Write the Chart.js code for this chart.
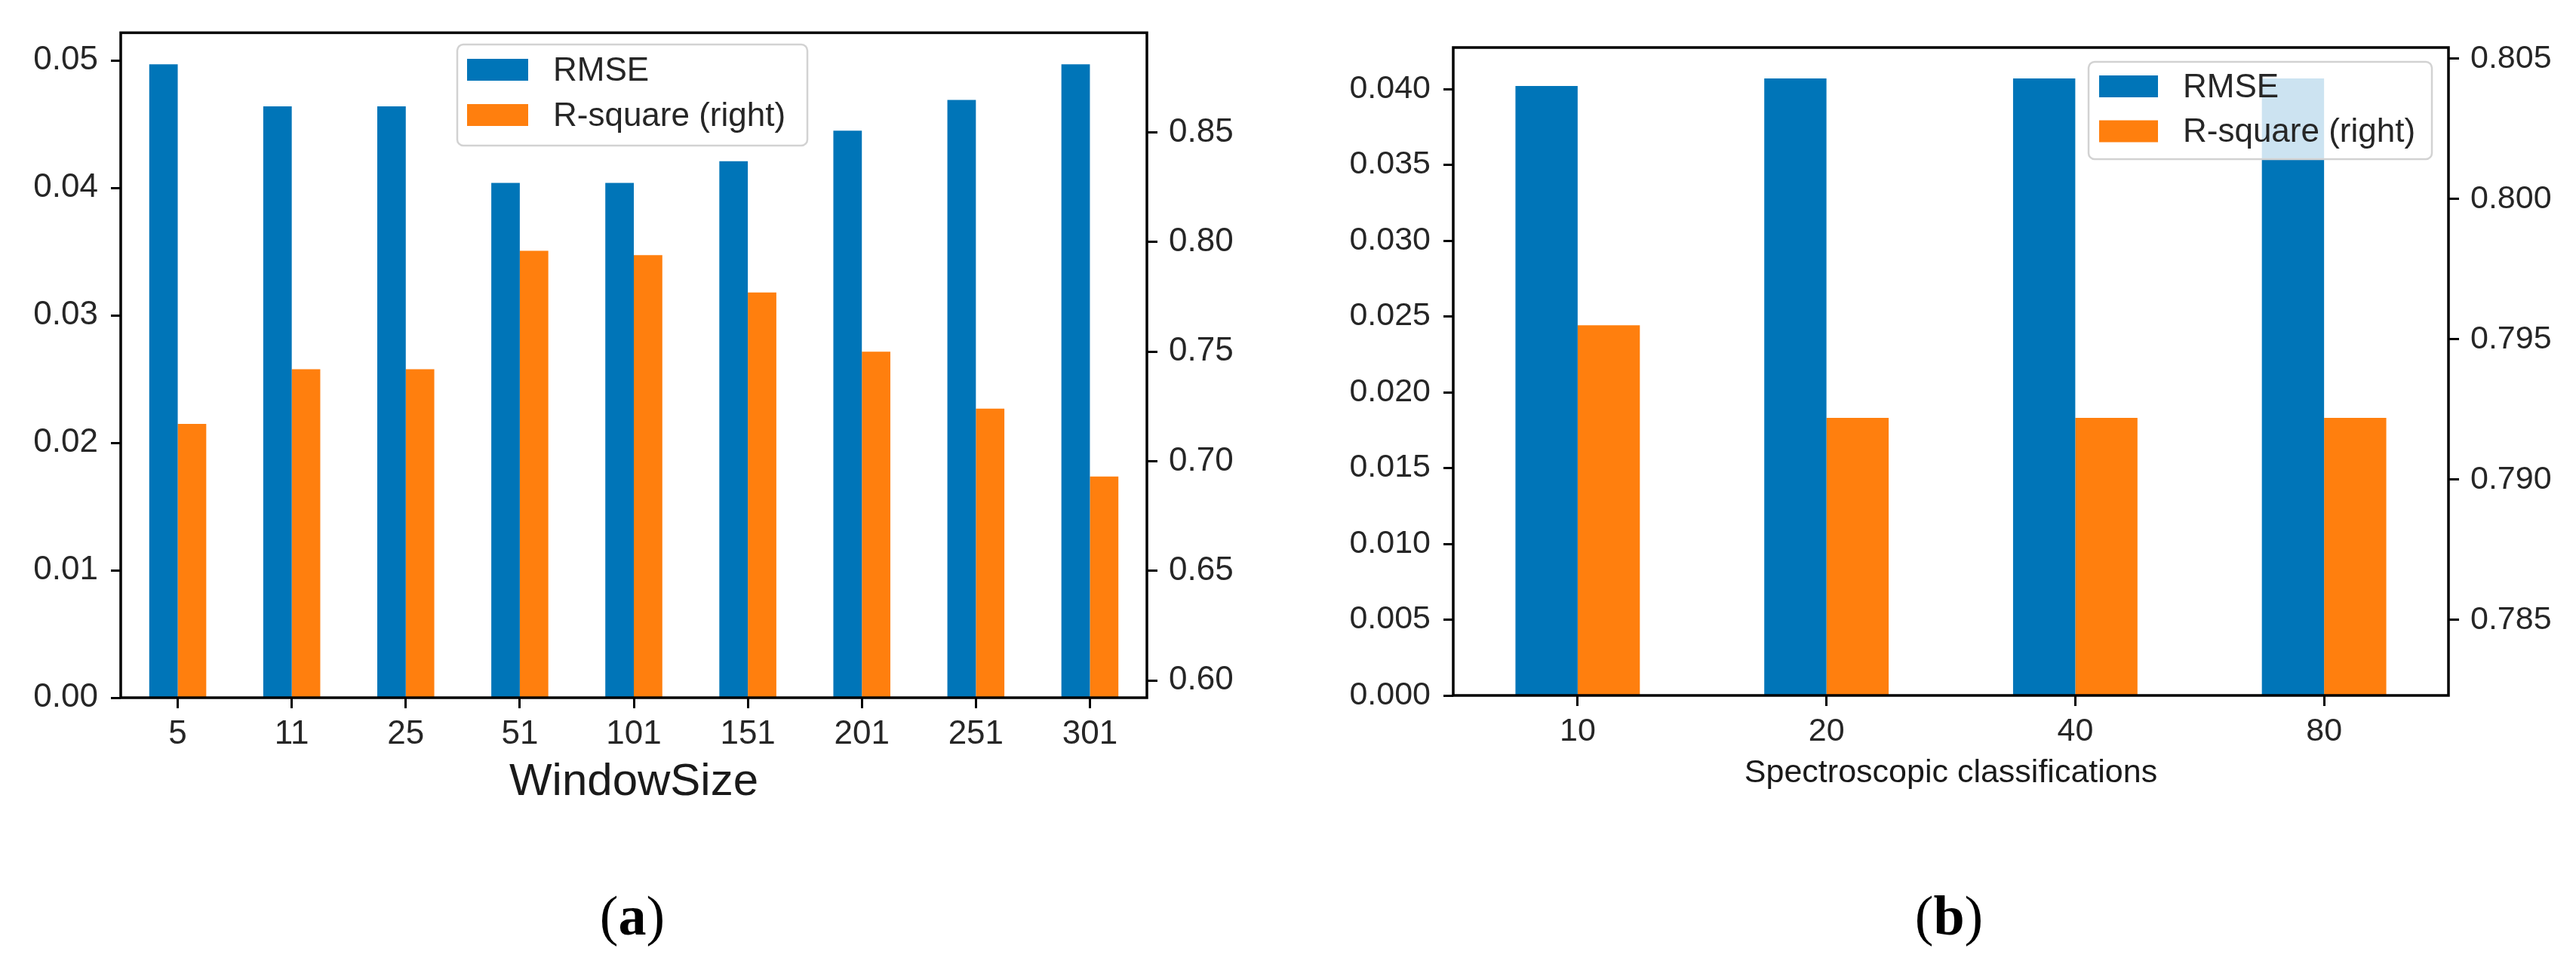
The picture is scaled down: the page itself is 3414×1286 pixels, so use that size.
<!DOCTYPE html>
<html>
<head>
<meta charset="utf-8">
<script src="https://cdn.jsdelivr.net/npm/chart.js@4.4.1/dist/chart.umd.min.js"></script>
<style>
  html, body { margin: 0; padding: 0; background: #fff; }
  body { width: 3414px; height: 1286px; position: relative; overflow: hidden; }
  canvas { position: absolute; top: 0; }
  #chartA { left: 0; }
  #chartB { left: 1707px; }
  .caption {
    position: absolute; top: 1177px; width: 300px; text-align: center;
    font-family: 'Liberation Serif', 'Times New Roman', serif;
    font-size: 74px; line-height: 1; color: #000;
  }
</style>
</head>
<body>
<canvas id="chartA" width="1707" height="1100"></canvas>
<canvas id="chartB" width="1707" height="1100"></canvas>
<div class="caption" style="left:688px">(<b>a</b>)</div>
<div class="caption" style="left:2433px">(<b>b</b>)</div>

<script>
// Series names (legend)
const seriesNames = ['RMSE', 'R-square (right)'];

// (a) window size
const windowSizes = ['5', '11', '25', '51', '101', '151', '201', '251', '301'];
const rmseWindow = [0.0497, 0.0464, 0.0464, 0.0404, 0.0404, 0.0421, 0.0445, 0.0469, 0.0497];
const rsqWindow = [0.717, 0.742, 0.742, 0.796, 0.794, 0.777, 0.750, 0.724, 0.693];
const leftTicksA = [0, 0.01, 0.02, 0.03, 0.04, 0.05];
const rightTicksA = [0.60, 0.65, 0.70, 0.75, 0.80, 0.85];

// (b) spectroscopic classifications
const classCounts = ['10', '20', '40', '80'];
const rmseClass = [0.0402, 0.0407, 0.0407, 0.0407];
const rsqClass = [0.7955, 0.7922, 0.7922, 0.7922];
const leftTicksB = [0, 0.005, 0.010, 0.015, 0.020, 0.025, 0.030, 0.035, 0.040];
const rightTicksB = [0.785, 0.790, 0.795, 0.800, 0.805];

const BLUE = '#0075b8';
const ORANGE = '#ff7f0e';
const TXT = '#262626';
const FONT = "'Liberation Sans', Arial, sans-serif";

// matplotlib-like box around the axes
const framePlugin = {
    id: 'frame',
    afterDatasetsDraw(chart) {
        const { ctx, chartArea: a } = chart;
        ctx.save();
        ctx.strokeStyle = '#000';
        ctx.lineWidth = 3.5;
        ctx.strokeRect(a.left, a.top, a.right - a.left, a.bottom - a.top);
        ctx.restore();
    }
};

// legend box drawn inside the plot (semi transparent like matplotlib)
const boxLegend = {
    id: 'boxLegend',
    afterDraw(chart, args, opts) {
        const { ctx } = chart;
        ctx.save();
        ctx.beginPath();
        ctx.roundRect(opts.x, opts.y, opts.w, opts.h, 8);
        ctx.fillStyle = 'rgba(255,255,255,0.8)';
        ctx.fill();
        ctx.strokeStyle = '#d2d2d2';
        ctx.lineWidth = 2.5;
        ctx.stroke();
        ctx.font = opts.fontSize + 'px ' + FONT;
        ctx.textBaseline = 'middle';
        chart.data.datasets.forEach((ds, i) => {
            const y = opts.rows[i];
            ctx.fillStyle = ds.backgroundColor;
            ctx.fillRect(opts.patchX, y - opts.patchH / 2, opts.patchW, opts.patchH);
            ctx.fillStyle = TXT;
            ctx.fillText(ds.label, opts.textX, y + 2);
        });
        ctx.restore();
    }
};

function axisTicks(list) {
    return scale => { scale.ticks = list.map(v => ({ value: v })); };
}

function makeChart(id, cats, rmse, rsq, o) {
    return new Chart(document.getElementById(id), {
        type: 'bar',
        data: {
            labels: cats,
            datasets: [
                { label: seriesNames[0], data: rmse, yAxisID: 'y', backgroundColor: BLUE,
                  categoryPercentage: 0.5, barPercentage: 1.0 },
                { label: seriesNames[1], data: rsq, yAxisID: 'y2', backgroundColor: ORANGE,
                  categoryPercentage: 0.5, barPercentage: 1.0 }
            ]
        },
        options: {
            responsive: false,
            animation: false,
            devicePixelRatio: 1,
            layout: { padding: { top: o.top, left: 0, right: 0, bottom: 0 } },
            plugins: {
                legend: { display: false },
                tooltip: { enabled: false },
                boxLegend: o.legend
            },
            scales: {
                x: {
                    offset: true,
                    grid: { offset: false, drawOnChartArea: false, tickLength: 14, tickWidth: 3, tickColor: '#000' },
                    border: { display: false },
                    ticks: { font: { family: FONT, size: o.tickSize }, color: TXT, padding: 8, maxRotation: 0, autoSkip: false },
                    title: {
                        display: true, text: o.xTitle, color: '#1a1a1a',
                        font: { family: FONT, size: o.titleSize },
                        padding: { top: 0, bottom: o.titlePad }
                    },
                    afterFit: s => { s.height = o.xHeight; }
                },
                y: {
                    position: 'left',
                    min: 0, max: o.yMax,
                    afterBuildTicks: axisTicks(o.yTicks),
                    grid: { drawOnChartArea: false, tickLength: 13, tickWidth: 3, tickColor: '#000' },
                    border: { display: false },
                    ticks: { font: { family: FONT, size: o.tickSize }, color: TXT, padding: 17,
                             callback: v => v.toFixed(o.yDigits) },
                    afterFit: s => { s.width = o.yWidth; }
                },
                y2: {
                    position: 'right',
                    min: o.y2Min, max: o.y2Max,
                    afterBuildTicks: axisTicks(o.y2Ticks),
                    grid: { drawOnChartArea: false, tickLength: 14, tickWidth: 3, tickColor: '#000' },
                    border: { display: false },
                    ticks: { font: { family: FONT, size: o.tickSize }, color: TXT, padding: 15,
                             callback: v => v.toFixed(o.y2Digits) },
                    afterFit: s => { s.width = o.y2Width; }
                }
            }
        },
        plugins: [framePlugin, boxLegend]
    });
}

makeChart('chartA', windowSizes, rmseWindow, rsqWindow, {
    top: 39, yWidth: 160, y2Width: 187, xHeight: 175,
    yMax: 0.05218, yTicks: leftTicksA, yDigits: 2,
    y2Min: 0.5921, y2Max: 0.8955, y2Ticks: rightTicksA, y2Digits: 2,
    tickSize: 44, xTitle: 'WindowSize', titleSize: 60, titlePad: 27,
    legend: { x: 606, y: 59, w: 464, h: 134, patchX: 619, patchW: 81, patchH: 29,
              rows: [92.5, 152.5], textX: 733, fontSize: 44 }
});

makeChart('chartB', classCounts, rmseClass, rsqClass, {
    top: 63, yWidth: 219, y2Width: 169, xHeight: 178,
    yMax: 0.04274, yTicks: leftTicksB, yDigits: 3,
    y2Min: 0.78231, y2Max: 0.8054, y2Ticks: rightTicksB, y2Digits: 3,
    tickSize: 43, xTitle: 'Spectroscopic classifications', titleSize: 43, titlePad: 49,
    legend: { x: 1061, y: 82, w: 455, h: 129, patchX: 1075, patchW: 78, patchH: 29,
              rows: [114.5, 174], textX: 1186, fontSize: 44 }
});
</script>
</body>
</html>
